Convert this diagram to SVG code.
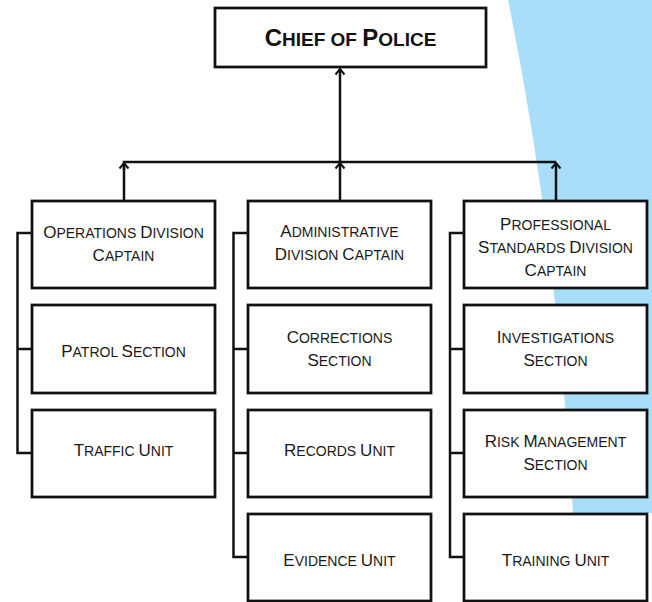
<svg xmlns="http://www.w3.org/2000/svg" width="652" height="602" viewBox="0 0 652 602">
<style>
.box{fill:#ffffff;stroke:#111111;stroke-width:2.75}
.t{font-family:"Liberation Sans",Arial,sans-serif;font-size:14px;fill:#1a1a1a;text-anchor:middle}
.b{font-size:17px}
.tc{font-family:"Liberation Sans",Arial,sans-serif;font-size:19px;font-weight:bold;fill:#111111;text-anchor:middle}
.tc .b{font-size:24px}
.ln{fill:none;stroke:#111111;stroke-width:2.5}
</style>
<defs>
<marker id="ah" markerUnits="userSpaceOnUse" markerWidth="12" markerHeight="12" viewBox="-8 -6 12 12" refX="0" refY="0" orient="auto" overflow="visible">
<path d="M-5.5,-4.5 L0,0 L-5.5,4.5" fill="none" stroke="#111111" stroke-width="2"/>
</marker>
</defs>
<path d="M508,0 Q556,235 573,513 L652,513 L652,0 Z" fill="#a9def9"/>
<g id="connectors">
<path class="ln" d="M340,201 L340,163" marker-end="url(#ah)"/>
<path class="ln" d="M340,163 L340,69" marker-end="url(#ah)"/>
<path class="ln" d="M124,201 L124,162 L556,162"/>
<path class="ln" d="M124,170 L124,163" marker-end="url(#ah)"/>
<path class="ln" d="M556,201 L556,163" marker-end="url(#ah)"/>
<path class="ln" d="M32,233 L17.5,233 L17.5,453 L32,453 M17.5,349 L32,349"/>
<path class="ln" d="M248,233 L233.5,233 L233.5,557 L248,557 M233.5,349 L248,349 M233.5,453 L248,453"/>
<path class="ln" d="M464,233 L450,233 L450,557 L464,557 M450,349 L464,349 M450,453 L464,453"/>
</g>
<g id="chief">
<rect class="box" x="215" y="8" width="271" height="59"/>
<text class="tc" x="350.5" y="46"><tspan class="b">C</tspan>HIEF OF <tspan class="b">P</tspan>OLICE</text>
</g>
<g id="ops">
<rect class="box" x="32" y="201" width="183" height="87"/>
<text class="t" x="123.5" y="238"><tspan class="b">O</tspan>PERATIONS <tspan class="b">D</tspan>IVISION</text>
<text class="t" x="123.5" y="261"><tspan class="b">C</tspan>APTAIN</text>
</g>
<g id="patrol">
<rect class="box" x="32" y="305" width="183" height="88"/>
<text class="t" x="123.5" y="357"><tspan class="b">P</tspan>ATROL <tspan class="b">S</tspan>ECTION</text>
</g>
<g id="traffic">
<rect class="box" x="32" y="410" width="183" height="87"/>
<text class="t" x="123.5" y="456"><tspan class="b">T</tspan>RAFFIC <tspan class="b">U</tspan>NIT</text>
</g>
<g id="admin">
<rect class="box" x="248" y="201" width="183" height="87"/>
<text class="t" x="339.5" y="237"><tspan class="b">A</tspan>DMINISTRATIVE</text>
<text class="t" x="339.5" y="260"><tspan class="b">D</tspan>IVISION <tspan class="b">C</tspan>APTAIN</text>
</g>
<g id="corrections">
<rect class="box" x="248" y="305" width="183" height="88"/>
<text class="t" x="339.5" y="343"><tspan class="b">C</tspan>ORRECTIONS</text>
<text class="t" x="339.5" y="366"><tspan class="b">S</tspan>ECTION</text>
</g>
<g id="records">
<rect class="box" x="248" y="410" width="183" height="87"/>
<text class="t" x="339.5" y="456"><tspan class="b">R</tspan>ECORDS <tspan class="b">U</tspan>NIT</text>
</g>
<g id="evidence">
<rect class="box" x="248" y="514" width="183" height="87"/>
<text class="t" x="339.5" y="566"><tspan class="b">E</tspan>VIDENCE <tspan class="b">U</tspan>NIT</text>
</g>
<g id="prof">
<rect class="box" x="464" y="201" width="183" height="87"/>
<text class="t" x="555.5" y="230"><tspan class="b">P</tspan>ROFESSIONAL</text>
<text class="t" x="555.5" y="253"><tspan class="b">S</tspan>TANDARDS <tspan class="b">D</tspan>IVISION</text>
<text class="t" x="555.5" y="276"><tspan class="b">C</tspan>APTAIN</text>
</g>
<g id="investigations">
<rect class="box" x="464" y="305" width="183" height="88"/>
<text class="t" x="555.5" y="343"><tspan class="b">I</tspan>NVESTIGATIONS</text>
<text class="t" x="555.5" y="366"><tspan class="b">S</tspan>ECTION</text>
</g>
<g id="risk">
<rect class="box" x="464" y="410" width="183" height="87"/>
<text class="t" x="555.5" y="447"><tspan class="b">R</tspan>ISK <tspan class="b">M</tspan>ANAGEMENT</text>
<text class="t" x="555.5" y="470"><tspan class="b">S</tspan>ECTION</text>
</g>
<g id="training">
<rect class="box" x="464" y="514" width="183" height="87"/>
<text class="t" x="555.5" y="566"><tspan class="b">T</tspan>RAINING <tspan class="b">U</tspan>NIT</text>
</g>
</svg>
